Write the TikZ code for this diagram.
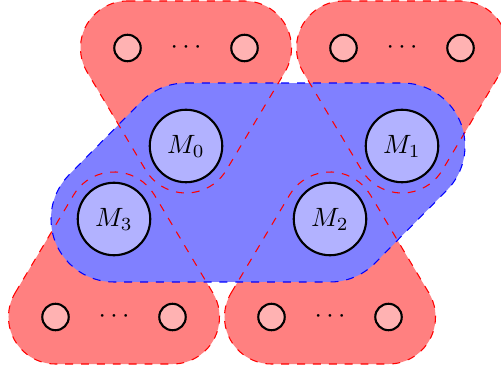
\documentclass[tikz,border=0pt]{standalone}
\usetikzlibrary{calc,backgrounds}
\def\redr{17.77pt}
\def\bluer{23.81pt}
\newcommand\tophull[3]{($(#2.center)+(90:\redr)$) -- ($(#3.center)+(90:\redr)$)
  arc[start angle=90,end angle=-30.84,radius=\redr]
  -- ($(#1.center)+(-30.84:\redr)$) arc[start angle=-30.84,end angle=-149.16,radius=\redr]
  -- ($(#2.center)+(210.84:\redr)$) arc[start angle=210.84,end angle=90,radius=\redr] -- cycle}
\newcommand\bothull[3]{($(#2.center)+(149.16:\redr)$) -- ($(#1.center)+(149.16:\redr)$)
  arc[start angle=149.16,end angle=30.84,radius=\redr]
  -- ($(#3.center)+(30.84:\redr)$) arc[start angle=30.84,end angle=-90,radius=\redr]
  -- ($(#2.center)+(-90:\redr)$) arc[start angle=-90,end angle=-210.84,radius=\redr] -- cycle}
\newcommand\bluehull{($(m0.center)+(90:\bluer)$) -- ($(m1.center)+(90:\bluer)$)
  arc[start angle=90,end angle=-44.6,radius=\bluer]
  -- ($(m2.center)+(-44.6:\bluer)$) arc[start angle=-44.6,end angle=-90,radius=\bluer]
  -- ($(m3.center)+(-90:\bluer)$) arc[start angle=-90,end angle=-224.6,radius=\bluer]
  -- ($(m0.center)+(135.4:\bluer)$) arc[start angle=135.4,end angle=90,radius=\bluer] -- cycle}
\begin{document}
\begin{tikzpicture}[x=0.378pt,y=0.378pt,
  mnode/.style={circle,draw,thick,fill=blue!30,minimum size=27.4pt,inner sep=0pt},
  snode/.style={circle,draw,thick,fill=red!30,minimum size=10pt,inner sep=0pt},
  redfill/.style={fill=red!50},
  bluefill/.style={fill=blue!50},
  redline/.style={draw=red,dashed},
  blueline/.style={draw=blue,dashed}]
\useasboundingbox (0,0) rectangle (501,-372);
% main nodes
\node[mnode] (m0) at (186,-146) {$M_0$};
\node[mnode] (m1) at (402,-146) {$M_1$};
\node[mnode] (m2) at (330,-219) {$M_2$};
\node[mnode] (m3) at (114,-219) {$M_3$};
% small nodes
\node[snode] (s0a) at (127.5,-48) {};
\node[snode] (s0b) at (244.5,-48) {};
\node (d0) at (186,-48) {$\cdots$};
\node[snode] (s1a) at (343.5,-48) {};
\node[snode] (s1b) at (460.5,-48) {};
\node (d1) at (402,-48) {$\cdots$};
\node[snode] (s3a) at (55.5,-317) {};
\node[snode] (s3b) at (172.5,-317) {};
\node (d3) at (114,-317) {$\cdots$};
\node[snode] (s2a) at (271.5,-317) {};
\node[snode] (s2b) at (388.5,-317) {};
\node (d2) at (330,-317) {$\cdots$};
\begin{scope}[on background layer]
  \path[redfill] \tophull{m0}{s0a}{s0b};
  \path[redfill] \tophull{m1}{s1a}{s1b};
  \path[redfill] \bothull{m3}{s3a}{s3b};
  \path[redfill] \bothull{m2}{s2a}{s2b};
  \path[bluefill] \bluehull;
  \path[redline] \tophull{m0}{s0a}{s0b};
  \path[redline] \tophull{m1}{s1a}{s1b};
  \path[redline] \bothull{m3}{s3a}{s3b};
  \path[redline] \bothull{m2}{s2a}{s2b};
  \path[blueline] \bluehull;
\end{scope}
\end{tikzpicture}
\end{document}
